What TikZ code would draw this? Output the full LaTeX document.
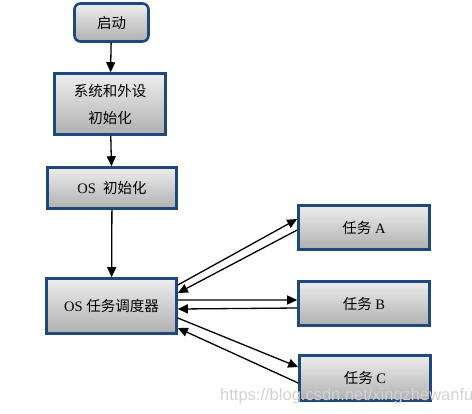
\documentclass[tikz,border=0pt]{standalone}
\usepackage{fontspec}
\setmainfont{Liberation Serif}
\newfontfamily\cjk{Noto Sans CJK SC}
\newfontfamily\wmfont{Liberation Sans}
\usetikzlibrary{arrows.meta}
\definecolor{bordblue}{RGB}{31,73,125}
\begin{document}
\begin{tikzpicture}[x=1bp,y=-1bp,
  box/.style={draw=bordblue,line width=2.6bp,top color=gray!14,bottom color=gray!62,
    inner sep=0pt,align=center,font=\fontsize{14.5bp}{27bp}\selectfont},
  conn/.style={-{Triangle[length=10bp,width=9bp]},line width=1.3bp,black}]
\useasboundingbox (0,0) rectangle (472,413);
\node[box,rounded corners=6bp,minimum width=74bp,minimum height=38bp] (start) at (111.5,22.5) {\cjk 启动};
\node[box,minimum width=111bp,minimum height=61bp] (sysinit) at (110,104) {\cjk 系统和外设\\\cjk 初始化};
\node[box,minimum width=129bp,minimum height=41bp] (osinit) at (112,188) {OS\ \ \cjk 初始化};
\node[box,minimum width=130bp,minimum height=55bp] (sched) at (111.5,306) {OS {\cjk 任务调度器}};
\node[box,minimum width=131bp,minimum height=44bp] (ta) at (364,227.5) {{\cjk 任务} A};
\node[box,minimum width=131bp,minimum height=44bp] (tb) at (364,303.5) {{\cjk 任务} B};
\node[box,minimum width=131bp,minimum height=45bp] (tc) at (365,378) {{\cjk 任务} C};
\draw[conn] (start) -- (sysinit);
\draw[conn] (sysinit) -- (osinit);
\draw[conn] (osinit) -- (sched);
\draw[conn] ([yshift=21bp]sched.east) -- ([yshift=8.5bp]ta.west);
\draw[conn] ([yshift=-2.5bp]ta.west) -- ([yshift=13bp]sched.east);
\draw[conn] ([yshift=6bp]sched.east) -- ([yshift=3.5bp]tb.west);
\draw[conn] ([yshift=-4.5bp]tb.west) -- ([yshift=-3bp]sched.east);
\draw[conn] ([yshift=-12bp]sched.east) -- ([yshift=11bp]tc.west);
\draw[conn] ([yshift=-5bp]tc.west) -- ([yshift=-22bp]sched.east);
\node[anchor=base west,inner sep=0pt,text=gray!35,font=\wmfont\fontsize{16.5bp}{18bp}\selectfont] (wm) at (220,400) {https://blog.csdn.net/xingzhewanfu};
\end{tikzpicture}
\end{document}
